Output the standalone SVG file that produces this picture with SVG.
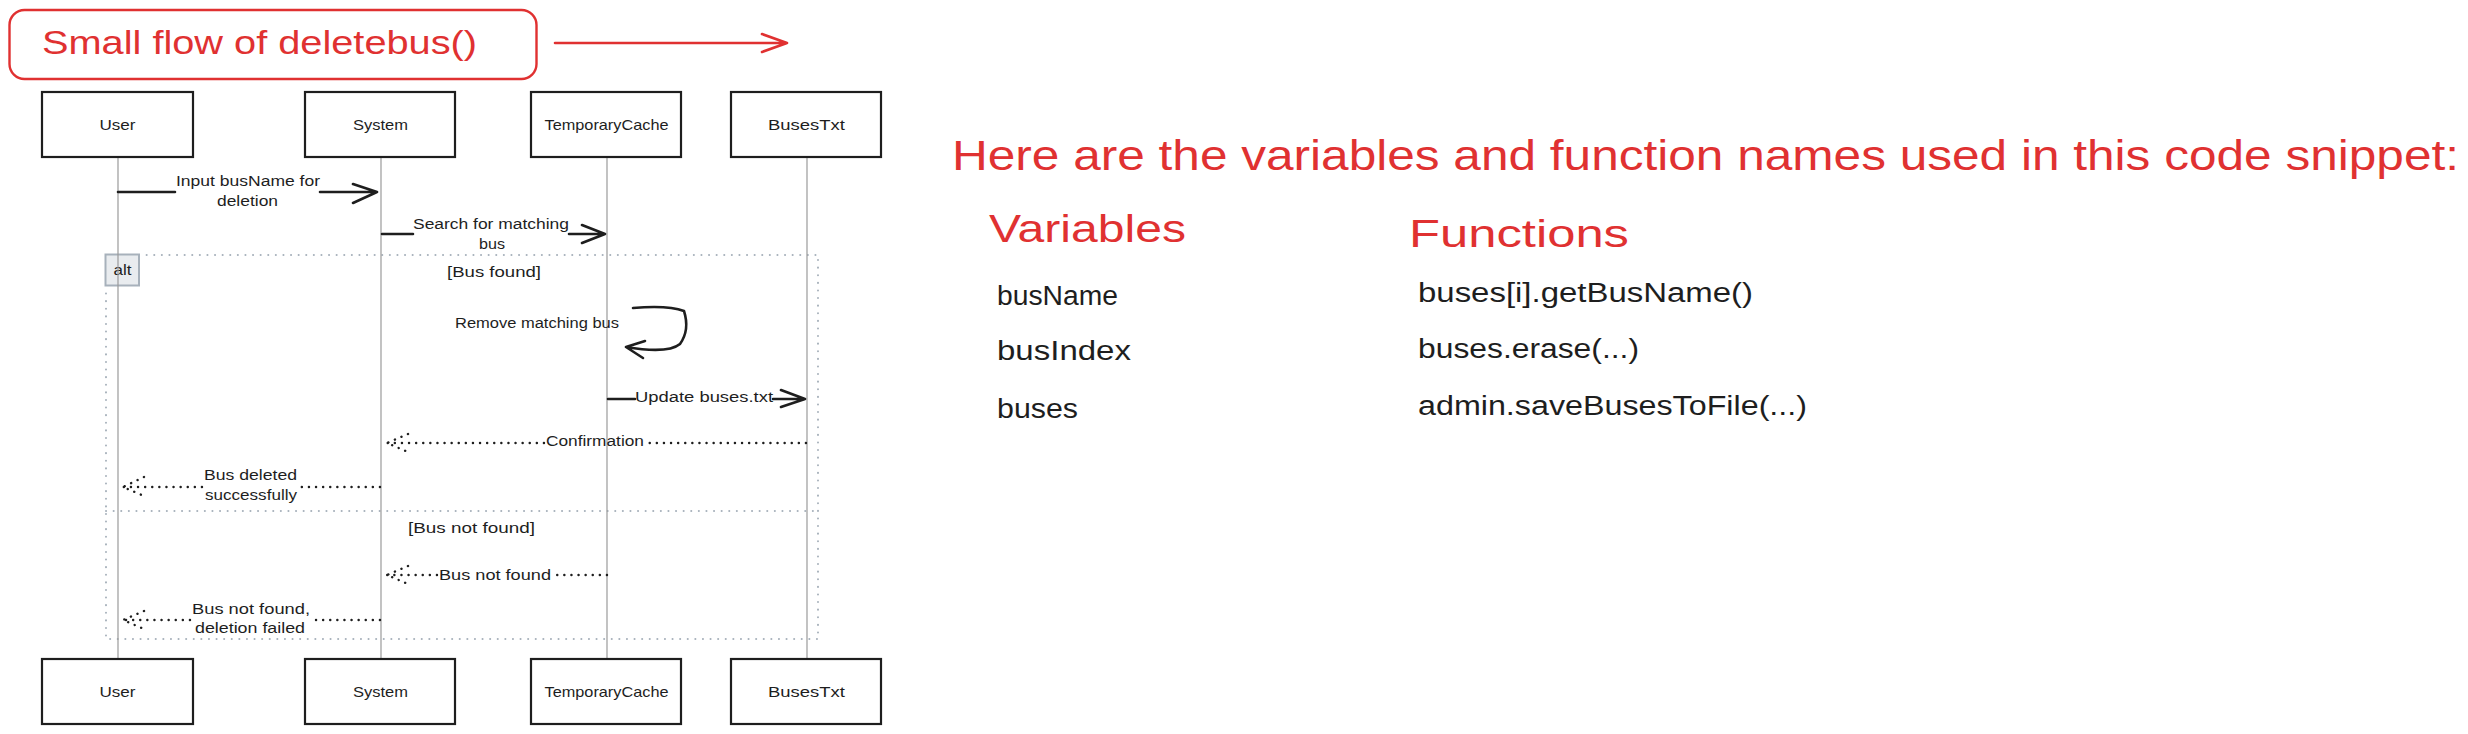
<svg xmlns="http://www.w3.org/2000/svg" width="2468" height="734" viewBox="0 0 2468 734">
<defs>
<style>
.bg{fill:#ffffff}
.box{fill:#ffffff;stroke:#1e1e1e;stroke-width:2.2}
.lbl{font-family:"Liberation Sans",Arial,sans-serif;font-size:15px;fill:#1e1e1e;text-anchor:middle}
.msg{font-family:"Liberation Sans",Arial,sans-serif;font-size:14px;fill:#1e1e1e;text-anchor:middle}
.life{stroke:#9a9a9a;stroke-width:1.2;fill:none}
.solid{stroke:#1e1e1e;stroke-width:2.6;fill:none;stroke-linecap:round;stroke-linejoin:round}
.dot{stroke:#1e1e1e;stroke-width:2.4;fill:none;stroke-dasharray:0.1 7;stroke-linecap:round}
.frame{stroke:#a7b1bb;stroke-width:2;fill:none;stroke-dasharray:0.1 7.5;stroke-linecap:round}
.red{fill:#e03131;font-family:"Liberation Sans",Arial,sans-serif}
.blk{fill:#1e1e1e;font-family:"Liberation Sans",Arial,sans-serif;font-size:27px}
</style>
</defs>
<rect class="bg" x="0" y="0" width="2468" height="734"/>

<g id="title">
<rect x="9.5" y="10" width="527" height="69" rx="15" ry="15" fill="none" stroke="#e03131" stroke-width="2.4"/>
<text class="red" x="42" y="54" font-size="34" textLength="435" lengthAdjust="spacingAndGlyphs">Small flow of deletebus()</text>
</g>
<g id="title-arrow">
<path d="M555 43 L787 43 M762 34 L787 43 L762 52" stroke="#e03131" stroke-width="2.6" fill="none" stroke-linecap="round" stroke-linejoin="round"/>
</g>

<g id="alt-frame">
<path class="frame" d="M139 255 L818 255 L818 639 L106 639 L106 286"/>
<path class="frame" d="M106 511 L818 511"/>
<rect x="105.5" y="254.5" width="33.5" height="31" fill="#e9ecef" stroke="#a7b1bb" stroke-width="2"/>
<text class="msg" x="122.5" y="275" textLength="18" lengthAdjust="spacingAndGlyphs">alt</text>
<text class="msg" x="494" y="277" textLength="94" lengthAdjust="spacingAndGlyphs">[Bus found]</text>
<text class="msg" x="471.5" y="533" textLength="127" lengthAdjust="spacingAndGlyphs">[Bus not found]</text>
</g>

<g id="lifelines">
<line class="life" x1="118" y1="157" x2="118" y2="659"/>
<line class="life" x1="381" y1="157" x2="381" y2="659"/>
<line class="life" x1="607" y1="157" x2="607" y2="659"/>
<line class="life" x1="807" y1="157" x2="807" y2="659"/>
</g>

<g id="user">
<rect class="box" x="42" y="92" width="151" height="65"/>
<text class="lbl" x="117.5" y="130" textLength="36" lengthAdjust="spacingAndGlyphs">User</text>
<rect class="box" x="42" y="659" width="151" height="65"/>
<text class="lbl" x="117.5" y="697" textLength="36" lengthAdjust="spacingAndGlyphs">User</text>
</g>
<g id="system">
<rect class="box" x="305" y="92" width="150" height="65"/>
<text class="lbl" x="380.5" y="130" textLength="55" lengthAdjust="spacingAndGlyphs">System</text>
<rect class="box" x="305" y="659" width="150" height="65"/>
<text class="lbl" x="380.5" y="697" textLength="55" lengthAdjust="spacingAndGlyphs">System</text>
</g>
<g id="temporarycache">
<rect class="box" x="531" y="92" width="150" height="65"/>
<text class="lbl" x="606.5" y="130" textLength="124" lengthAdjust="spacingAndGlyphs">TemporaryCache</text>
<rect class="box" x="531" y="659" width="150" height="65"/>
<text class="lbl" x="606.5" y="697" textLength="124" lengthAdjust="spacingAndGlyphs">TemporaryCache</text>
</g>
<g id="busestxt">
<rect class="box" x="731" y="92" width="150" height="65"/>
<text class="lbl" x="806.5" y="130" textLength="77" lengthAdjust="spacingAndGlyphs">BusesTxt</text>
<rect class="box" x="731" y="659" width="150" height="65"/>
<text class="lbl" x="806.5" y="697" textLength="77" lengthAdjust="spacingAndGlyphs">BusesTxt</text>
</g>

<g id="connectors">
<path class="solid" d="M118 192 L175 192 M320 192 L377 192 M353 184 L377 192 L353 203"/>
<path class="solid" d="M382 234 L413 234 M569 234 L605 234 M582 225 L605 234 L582 243"/>
<path class="solid" d="M633 308 Q668 305 684 311 Q690 330 680 344 Q668 354 626 347 M645 341 L626 347 L643 358"/>
<path class="solid" d="M608 399 L635 399 M773 399 L805 399 M781 390 L805 399 L781 407"/>
<path class="dot" d="M806 443 L646 443 M544 443 L387 443 M408 434 L387 443 L408 452"/>
<path class="dot" d="M380 487 L299 487 M202 487 L123 487 M144 477 L123 487 L144 496"/>
<path class="dot" d="M607 575 L553 575 M437 575 L387 575 M408 566 L387 575 L408 584"/>
<path class="dot" d="M380 620 L312 620 M190 620 L123 620 M144 611 L123 620 L144 629"/>
</g>

<g id="message-labels">
<text class="msg" x="248" y="186" textLength="144" lengthAdjust="spacingAndGlyphs">Input busName for</text>
<text class="msg" x="247.5" y="206" textLength="61" lengthAdjust="spacingAndGlyphs">deletion</text>
<text class="msg" x="491" y="229" textLength="156" lengthAdjust="spacingAndGlyphs">Search for matching</text>
<text class="msg" x="492" y="249" textLength="26" lengthAdjust="spacingAndGlyphs">bus</text>
<text class="msg" x="537" y="328" textLength="164" lengthAdjust="spacingAndGlyphs">Remove matching bus</text>
<text class="msg" x="704" y="402" textLength="138" lengthAdjust="spacingAndGlyphs">Update buses.txt</text>
<text class="msg" x="595" y="446" textLength="98" lengthAdjust="spacingAndGlyphs">Confirmation</text>
<text class="msg" x="250.5" y="480" textLength="93" lengthAdjust="spacingAndGlyphs">Bus deleted</text>
<text class="msg" x="251" y="500" textLength="92" lengthAdjust="spacingAndGlyphs">successfully</text>
<text class="msg" x="495" y="580" textLength="112" lengthAdjust="spacingAndGlyphs">Bus not found</text>
<text class="msg" x="251" y="614" textLength="118" lengthAdjust="spacingAndGlyphs">Bus not found,</text>
<text class="msg" x="250" y="633" textLength="110" lengthAdjust="spacingAndGlyphs">deletion failed</text>
</g>

<g id="notes">
<text class="red" x="952" y="170" font-size="42" textLength="1507" lengthAdjust="spacingAndGlyphs">Here are the variables and function names used in this code snippet:</text>
<text class="red" x="989" y="242" font-size="38" textLength="197" lengthAdjust="spacingAndGlyphs">Variables</text>
<text class="red" x="1409" y="247" font-size="38" textLength="220" lengthAdjust="spacingAndGlyphs">Functions</text>
<text class="blk" x="997" y="305" textLength="121" lengthAdjust="spacingAndGlyphs">busName</text>
<text class="blk" x="997" y="360" textLength="134" lengthAdjust="spacingAndGlyphs">busIndex</text>
<text class="blk" x="997" y="418" textLength="81" lengthAdjust="spacingAndGlyphs">buses</text>
<text class="blk" x="1418" y="302" textLength="335" lengthAdjust="spacingAndGlyphs">buses[i].getBusName()</text>
<text class="blk" x="1418" y="358" textLength="221" lengthAdjust="spacingAndGlyphs">buses.erase(...)</text>
<text class="blk" x="1418" y="415" textLength="389" lengthAdjust="spacingAndGlyphs">admin.saveBusesToFile(...)</text>
</g>
</svg>
